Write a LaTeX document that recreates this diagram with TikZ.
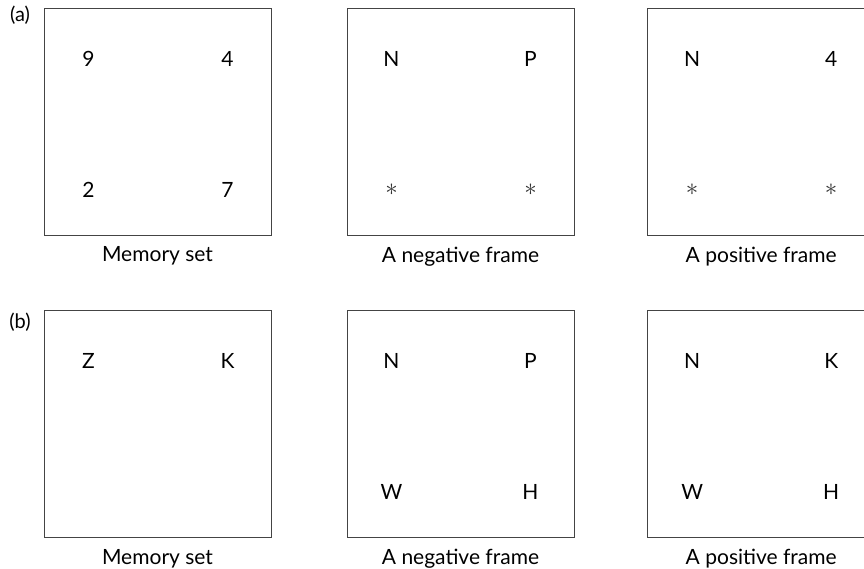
\documentclass[tikz,border=0pt]{standalone}
\usepackage{fontspec}
\setmainfont{Lato}
\usetikzlibrary{positioning}
\definecolor{framegray}{HTML}{444444}
\definecolor{stargray}{HTML}{333333}
\tikzset{
  stimbox/.style={draw=framegray, line width=0.9pt, minimum width=227pt,
                  minimum height=227pt, inner sep=0pt},
  item/.style={font=\fontsize{21}{25}\selectfont, inner sep=0pt},
  framecap/.style={font=\fontsize{21}{25}\selectfont, inner sep=0pt},
  panellabel/.style={font=\fontsize{20}{24}\selectfont, inner sep=0pt}
}
\newcommand{\blank}{\textcolor{stargray}{\fontsize{23}{25}\selectfont$\ast$}}
% name, x, y, top left, top right, bottom left, bottom right, caption
\newcommand{\stimframe}[8]{%
  \node[stimbox] (#1) at (#2,#3) {};
  \node[item, xshift=-69pt, yshift=63pt] (#1tl) at (#1.center) {#4};
  \node[item, xshift=70pt, yshift=63pt] (#1tr) at (#1.center) {#5};
  \node[item, xshift=-69pt, yshift=-68pt] (#1bl) at (#1.center) {#6};
  \node[item, xshift=70pt, yshift=-68pt] (#1br) at (#1.center) {#7};
  \node[framecap, below=11pt of #1] (#1cap) {#8};
}
\begin{document}
\begin{tikzpicture}[x=1pt,y=1pt]
  \useasboundingbox (0,0) rectangle (864,569);

  % (a) digits
  \node[panellabel] (la) at (20,554) {(a)};
  \stimframe{a1}{157.5}{447.5}{9}{4}{2}{7}{Memory set}
  \stimframe{a2}{460.5}{447.5}{N}{P}{\blank}{\blank}{A negative frame}
  \stimframe{a3}{761.2}{447.5}{N}{4}{\blank}{\blank}{A positive frame}

  % (b) letters
  \node[panellabel] (lb) at (20,247) {(b)};
  \stimframe{b1}{157.5}{144.8}{Z}{K}{}{}{Memory set}
  \stimframe{b2}{460.5}{144.8}{N}{P}{W}{H}{A negative frame}
  \stimframe{b3}{761.2}{144.8}{N}{K}{W}{H}{A positive frame}
\end{tikzpicture}
\end{document}
